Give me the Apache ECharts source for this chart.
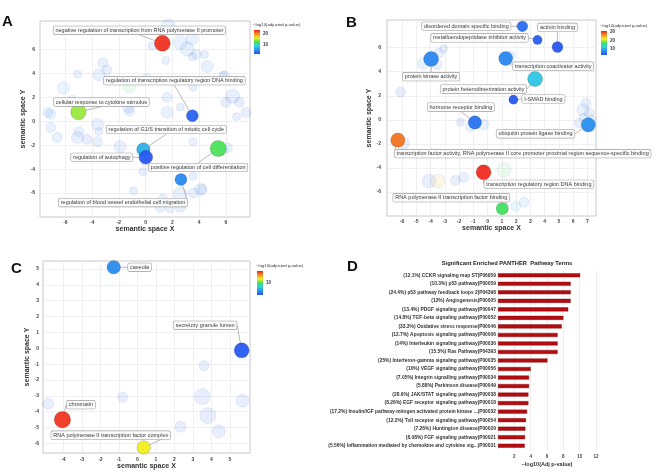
<!DOCTYPE html>
<html><head><meta charset="utf-8">
<script src="https://cdn.jsdelivr.net/npm/echarts@6/dist/echarts.min.js"></script>
<style>html,body{margin:0;padding:0;background:#fff}#c{width:657px;height:472px}</style>
</head><body><div id="c"></div>
<script>
// ---------- Panel A (highlighted terms) ----------
const aTerms = [
  "negative regulation of transcription from RNA polymerase II promoter",
  "regulation of transcription regulatory region DNA binding",
  "cellular response to cytokine stimulus",
  "regulation of G1/S transition of mitotic cell cycle",
  "regulation of autophagy",
  "positive regulation of cell differentiation",
  "regulation of blood vessel endothelial cell migration"
];
const aX = [1.25, 3.49, -5.03, -0.17, 0.01, 5.42, 2.64];
const aY = [6.53, 0.48, 0.78, -2.35, -3.0, -2.27, -4.87];
const aP = [22.5, 3.5, 14.5, 7.5, 3.0, 13.0, 5.5];
const aSize = [3.2, 2.4, 3.1, 2.7, 2.75, 3.2, 2.4];
// Panel A (other terms)
const aBgX = [1.68,2.57,3.46,0.48,3.1,3.8,4.4,3.5,1.5,-3.2,-2.9,-3.5,-5.1,-6.15,-7.3,-5.5,-1.3,1.6,1.6,2.6,3.55,5.8,6.5,7.0,6.0,7.5,0.1,4.6,6.8,6.1,4.2,-7.1,-7.1,-6.6,-5.0,-5.1,-3.6,-3.5,-4.4,-3.6,-1.9,-1.2,-0.05,-0.2,3.55,5.7,3.55,4.1,3.55,2.57,1.3,1.1,-0.9,2.57,1.8,-1.2,5.9];
const aBgY = [7.98,6.6,6.9,6.3,6.05,5.6,5.6,5.4,5.1,4.9,4.3,3.9,3.95,2.8,0.75,1.85,1.2,2.0,0.75,1.2,2.85,3.85,2.1,1.6,1.6,0.75,3.7,4.6,0.4,-2.2,-5.7,0.6,-0.5,-1.35,-0.85,-1.35,-0.25,-0.85,-1.5,-1.7,-2.1,0.85,-3.35,-4.2,-1.7,-2.35,-4.6,-5.7,-6.0,-6.1,-6.4,-7.2,-5.8,-7.1,-7.3,2.9,3.8];
const aBgP = [5,5,4,4,5,6,4,4,6,4,4,5,5,7,5,6,4,5,5,4,4,4,4,3,3,4,6,5,4,6,5,6,5,4,5,4,5,4,3,4,4,5,4,4,5,7,4,5,4,4,4,5,4,4,6,13,6];
const aBgSize = [2.8,2.8,2.4,1.6,2.8,2.0,1.6,1.6,1.6,2.0,2.0,2.4,1.6,2.4,2.0,1.6,2.4,2.0,2.4,1.6,1.6,1.6,2.8,2.0,2.0,2.0,1.6,2.4,1.6,2.0,2.0,2.0,2.0,2.0,2.0,2.4,2.4,1.6,2.0,2.0,2.4,2.0,1.6,1.6,1.6,2.4,1.6,2.4,2.0,2.8,1.6,2.0,1.6,2.4,1.6,2.4,2.0];
const aTickX = [-6,-4,-2,0,2,4,6];
const aTickY = [-6,-4,-2,0,2,4,6];

// ---------- Panel B ----------
const bTerms = [
  "disordered domain specific binding",
  "metalloendopeptidase inhibitor activity",
  "actinin binding",
  "transcription coactivator activity",
  "protein kinase activity",
  "protein heterodimerization activity",
  "I-SMAD binding",
  "hormone receptor binding",
  "ubiquitin protein ligase binding",
  "transcription factor activity, RNA polymerase II core promoter proximal region sequence-specific binding",
  "transcription regulatory region DNA binding",
  "RNA polymerase II transcription factor binding"
];
const bX = [2.44, 3.5, 4.9, 1.27, -3.96, 3.33, 1.81, -0.89, 7.06, -6.29, -0.28, 1.03];
const bY = [7.78, 6.64, 6.05, 5.1, 5.06, 3.39, 1.67, -0.22, -0.42, -1.69, -4.36, -7.39];
const bP = [5, 4, 3.5, 7, 7, 11.5, 3.5, 5.5, 7.5, 27.5, 30.5, 17];
const bSize = [2.15, 1.85, 2.2, 2.8, 3.0, 3.0, 1.85, 2.65, 2.85, 2.85, 3.0, 2.45];
const bBgX = [-3.08,-3.4,-4.5,-3.55,-6.1,-1.9,-1.2,-0.26,-5.9,-4.1,-3.5,-2.25,-1.67,1.15,1.97,2.56,6.9,6.67,7.13,7.25,6.43,1.62,6.7];
const bBgY = [5.9,5.55,4.7,4.6,2.3,-0.2,-0.55,-0.4,-1.95,-5.1,-5.1,-5.05,-4.8,-4.17,-7.2,-6.86,1.4,0.83,0.56,0,-0.28,5.4,0.2];
const bBgP = [6,5,7,6,4,4,5,5,5,6,25,5,6,17,12,8,6,7,6,7,6,6,7];
const bBgSize = [1.6,2.0,2.4,2.0,2.0,1.6,2.0,2.0,2.4,2.8,2.8,2.0,2.0,2.8,2.0,2.0,2.0,2.4,2.0,2.0,2.0,1.6,1.6];
const bTickX = [-6,-5,-4,-3,-2,-1,0,1,2,3,4,5,6,7];
const bTickY = [-6,-4,-2,0,2,4,6];

// ---------- Panel C ----------
const cTerms = ["caveola", "secretory granule lumen", "chromatin", "RNA polymerase II transcription factor complex"];
const cX = [-1.28, 5.63, -4.05, 0.34];
const cY = [5.1, -0.13, -4.5, -6.25];
const cP = [4.5, 2.5, 17.5, 12.7];
const cSize = [2.7, 3.0, 3.3, 2.7];
const cBgX = [3.6, 3.5, 3.8, 2.33, 4.4, 5.67, -0.8, -4.82];
const cBgY = [-1.1, -3.04, -4.25, -4.94, -5.23, -3.3, -3.08, -3.5];
const cBgP = [3, 3, 3, 3, 3, 3, 3, 3];
const cBgSize = [2.0, 3.2, 3.2, 2.2, 2.6, 2.6, 2.0, 2.2];
const cTickX = [-4,-3,-2,-1,0,1,2,3,4,5];
const cTickY = [-6,-5,-4,-3,-2,-1,0,1,2,3,4,5];

// ---------- Panel D ----------
const dTerms = [
  "(12.1%) CCKR signaling map ST|P06959",
  "(10.3%) p53 pathway|P00059",
  "(24.4%) p53 pathway feedback loops 2|P04398",
  "(12%) Angiogenesis|P00005",
  "(13.4%) PDGF signaling pathway|P00047",
  "(14.8%) TGF-beta signaling pathway|P00052",
  "(33.3%) Oxidative stress response|P00046",
  "(12.7%) Apoptosis signaling pathway|P00006",
  "(14%) Interleukin signaling pathway|P00036",
  "(15.5%) Ras Pathway|P04393",
  "(25%) Interferon-gamma signaling pathway|P00035",
  "(10%) VEGF signaling pathway|P00056",
  "(7.05%) Integrin signalling pathway|P00034",
  "(5.88%) Parkinson disease|P00049",
  "(28.6%) JAK/STAT signaling pathway|P00038",
  "(8.26%) EGF receptor signaling pathway|P00018",
  "(17.2%) Insulin/IGF pathway-mitogen activated protein kinase ...|P00032",
  "(12.2%) Toll receptor signaling pathway|P00054",
  "(7.26%) Huntington disease|P00029",
  "(8.08%) FGF signaling pathway|P00021",
  "(5.56%) Inflammation mediated by chemokine and cytokine sig...|P00031"
];
const dValues = [10.06, 8.9, 8.9, 8.9, 8.6, 8.0, 7.8, 7.3, 7.3, 7.3, 6.05, 4.0, 3.8, 3.8, 3.72, 3.72, 3.56, 3.43, 3.35, 3.31, 3.27];

// ---------- label placement (pixel offsets of label boxes from their bubbles) ----------
const aLabelDx = [-23, -18, 23, 23, -44, -20, -58];
const aLabelDy = [-13, -35, -10, -20, 0, 19, 23];
const bLabelDx = [-56, -58, 0, 47.5, 0, -51.6, 30, -14, -52.8, 124.8, 55.3, -51];
const bLabelDy = [0, -2, -19.6, 7.7, 17.7, 10, -0.7, -15.4, 9, 13.5, 12, -11];
const cLabelDx = [25.8, -36.5, 18.5, -33];
const cLabelDy = [0, -25, -15, -12.3];

// ---------- build ----------
const FONT = 'Liberation Sans';
const scale = ['#2850f0','#2a90f0','#30d0e0','#40e060','#f0f020','#f09020','#f02020'];
const pts = (t, x, y, p, s) => x.map((v, i) => ({ name: t ? t[i] : '', value: [v, y[i], p[i], s[i]] }));

function bubbleAxes(gi, xr, yr, tx, ty, xMargin, yMargin, xGap, yGap) {
  const common = {
    gridIndex: gi, type: 'value',
    axisLine: { show: false },
    splitLine: { show: true, lineStyle: { color: '#ececec', width: 0.8 } },
    nameTextStyle: { fontFamily: FONT, fontSize: 7, fontWeight: 'bold', color: '#333' },
    nameLocation: 'middle'
  };
  return [
    Object.assign({}, common, {
      min: xr[0], max: xr[1], name: 'semantic space X', nameGap: xGap,
      axisTick: { show: false, customValues: tx },
      axisLabel: { customValues: tx, fontFamily: FONT, fontSize: 5, fontWeight: 'bold', color: '#444', margin: xMargin }
    }),
    Object.assign({}, common, {
      min: yr[0], max: yr[1], name: 'semantic space Y', nameGap: yGap,
      axisTick: { show: false, customValues: ty },
      axisLabel: { customValues: ty, fontFamily: FONT, fontSize: 5, fontWeight: 'bold', color: '#444', margin: yMargin }
    })
  ];
}

const axA = bubbleAxes(0, [-7.9, 7.8], [-8, 8.4], aTickX, aTickY, 3, 5, 8, 9);
const axB = bubbleAxes(1, [-7.05, 7.6], [-8, 8.3], bTickX, bTickY, 3, 6, 8, 9);
const axC = bubbleAxes(2, [-5.1, 6.08], [-6.6, 5.5], cTickX, cTickY, 4, 4, 10, 9);

function bgSeries(i, data) {
  return {
    type: 'scatter', xAxisIndex: i, yAxisIndex: i, data: data, z: 2,
    symbolSize: v => v[3] * 5, silent: true,
    itemStyle: { opacity: 0.11, borderColor: '#3040c0', borderWidth: 0.8 }
  };
}
function hiSeries(i, data, dx, dy) {
  return {
    type: 'scatter', xAxisIndex: i, yAxisIndex: i, data: data, z: 3,
    symbolSize: v => v[3] * 5, silent: true,
    itemStyle: { opacity: 0.95, borderColor: 'rgba(0,0,0,0.25)', borderWidth: 0.6 },
    label: {
      show: true, position: 'inside', formatter: '{b}', fontFamily: FONT, fontSize: 5.5,
      color: '#333', backgroundColor: '#fbfbfb', borderColor: '#999', borderWidth: 0.6,
      borderRadius: 1.5, padding: [1.2, 2, 0.8, 2]
    },
    labelLine: { show: true, lineStyle: { color: '#8a8a8a', width: 0.6 } },
    labelLayout: p => ({ dx: dx[p.dataIndex], dy: dy[p.dataIndex] })
  };
}

function legend(x, y, title, labels) {
  const els = [
    { type: 'text', left: x - 1, top: y - 7, style: { text: '\u2212log10(adjusted p-value)', fontFamily: FONT, fontSize: 4.3, fill: '#333' } },
    { type: 'rect', shape: { x: x, y: y, width: 6, height: 24 },
      style: { fill: new echarts.graphic.LinearGradient(0, 0, 0, 1, scale.slice().reverse().map((c, i) => ({ offset: i / 6, color: c }))) } }
  ];
  labels.forEach(l => els.push({ type: 'text', x: x + 9, y: y + l[1], style: { text: l[0], fontFamily: FONT, fontSize: 4.5, fontWeight: 'bold', fill: '#333', verticalAlign: 'middle' } }));
  return els;
}

const letters = [['A', 2, 14], ['B', 346, 15], ['C', 11, 261], ['D', 347, 259]].map(l => ({
  type: 'text', x: l[1], y: l[2], style: { text: l[0], fontFamily: FONT, fontSize: 15, fontWeight: 'bold', fill: '#111', verticalAlign: 'alphabetic' }
}));

const option = {
  animation: false,
  backgroundColor: '#fff',
  grid: [
    { left: 40, top: 21, width: 210, height: 196, show: true, borderColor: '#c8c8c8', borderWidth: 1 },
    { left: 387, top: 20, width: 209, height: 196, show: true, borderColor: '#c8c8c8', borderWidth: 1 },
    { left: 43, top: 261, width: 207, height: 192, show: true, borderColor: '#c8c8c8', borderWidth: 1 },
    { left: 498, top: 271, width: 98, height: 179 }
  ],
  xAxis: [axA[0], axB[0], axC[0], {
    gridIndex: 3, type: 'value', min: 0, max: 12, interval: 2,
    axisLine: { show: false }, axisTick: { show: false },
    splitLine: { show: true, lineStyle: { color: '#eaeaea', width: 0.8 } },
    axisLabel: { showMinLabel: false, fontFamily: FONT, fontSize: 4.5, fontWeight: 'bold', color: '#444', margin: 4 },
    name: '\u2212log10(Adj p-value)', nameLocation: 'middle', nameGap: 11,
    nameTextStyle: { fontFamily: FONT, fontSize: 5.5, fontWeight: 'bold', color: '#333' }
  }],
  yAxis: [axA[1], axB[1], axC[1], {
    gridIndex: 3, type: 'category', data: dTerms, inverse: true,
    axisLine: { show: false }, axisTick: { show: false }, splitLine: { show: false },
    axisLabel: { interval: 0, fontFamily: FONT, fontSize: 4.9, fontWeight: 'bold', color: '#333', margin: 2 }
  }],
  visualMap: [
    { type: 'continuous', show: false, seriesIndex: [0, 1], dimension: 2, min: 2.5, max: 23, inRange: { color: scale } },
    { type: 'continuous', show: false, seriesIndex: [2, 3], dimension: 2, min: 3, max: 31, inRange: { color: scale } },
    { type: 'continuous', show: false, seriesIndex: [4, 5], dimension: 2, min: 2, max: 18, inRange: { color: scale } }
  ],
  series: [
    bgSeries(0, pts(null, aBgX, aBgY, aBgP, aBgSize)),
    hiSeries(0, pts(aTerms, aX, aY, aP, aSize), aLabelDx, aLabelDy),
    bgSeries(1, pts(null, bBgX, bBgY, bBgP, bBgSize)),
    hiSeries(1, pts(bTerms, bX, bY, bP, bSize), bLabelDx, bLabelDy),
    bgSeries(2, pts(null, cBgX, cBgY, cBgP, cBgSize)),
    hiSeries(2, pts(cTerms, cX, cY, cP, cSize), cLabelDx, cLabelDy),
    {
      type: 'bar', xAxisIndex: 3, yAxisIndex: 3, data: dValues, barWidth: 4, silent: true,
      itemStyle: { color: '#b30d12', borderColor: '#7a0508', borderWidth: 0.4 }
    }
  ],
  graphic: [].concat(
    legend(254, 30, '', [['20', 3.5], ['10', 15]]),
    legend(601, 31, '', [['30', 1], ['20', 9.5], ['10', 18]]),
    legend(257, 271, '', [['10', 12]]),
    letters,
    [{ type: 'text', x: 507, y: 263, style: { text: 'Significant Enriched PANTHER  Pathway Terms', fontFamily: FONT, fontSize: 5.8, fontWeight: 'bold', fill: '#222', align: 'center', verticalAlign: 'middle' } }]
  )
};

const chart = echarts.init(document.getElementById('c'), null, { renderer: 'canvas' });
chart.setOption(option);
</script>
</body></html>
